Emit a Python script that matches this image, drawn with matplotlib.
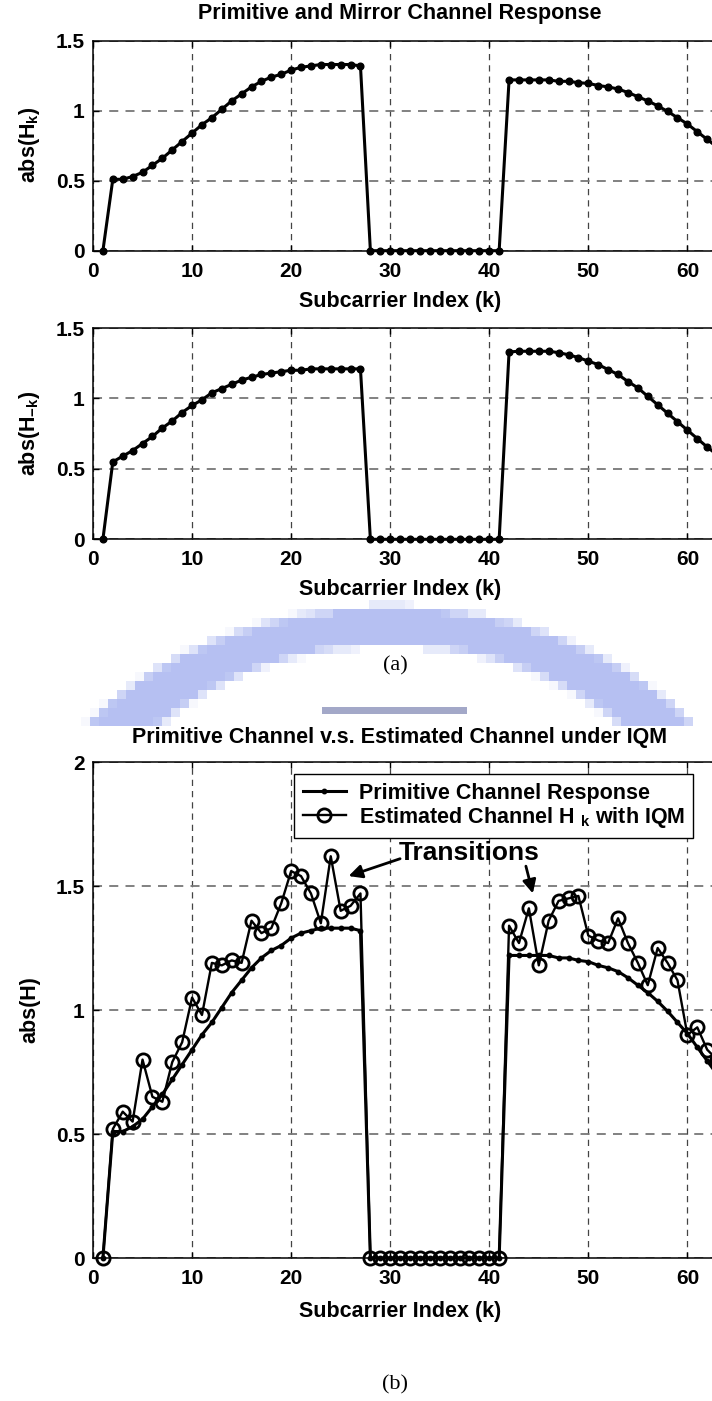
import numpy as np
import matplotlib
matplotlib.use('Agg')
import matplotlib.pyplot as plt
from matplotlib.patches import Rectangle

# ---- data ----
k = list(range(1, 64))

h_prim = [0, 0.51, 0.51, 0.53, 0.56, 0.61, 0.66, 0.72, 0.78, 0.84,
          0.90, 0.95, 1.01, 1.07, 1.12, 1.17, 1.21, 1.24, 1.26, 1.29,
          1.31, 1.32, 1.33, 1.33, 1.33, 1.33, 1.32,
          0, 0, 0, 0, 0, 0, 0, 0, 0, 0, 0, 0, 0, 0,
          1.22, 1.22, 1.22, 1.22, 1.22, 1.21, 1.21, 1.20, 1.195, 1.18,
          1.17, 1.155, 1.13, 1.10, 1.07, 1.035, 0.995, 0.95, 0.905, 0.85,
          0.795, 0.74]

h_mirror = [0, 0.55, 0.59, 0.63, 0.68, 0.73, 0.79, 0.84, 0.90, 0.95,
            0.99, 1.04, 1.07, 1.10, 1.13, 1.15, 1.17, 1.18, 1.19, 1.20,
            1.20, 1.21, 1.21, 1.21, 1.21, 1.21, 1.21,
            0, 0, 0, 0, 0, 0, 0, 0, 0, 0, 0, 0, 0, 0,
            1.33, 1.335, 1.335, 1.335, 1.335, 1.325, 1.31, 1.29, 1.265, 1.24,
            1.205, 1.17, 1.12, 1.075, 1.015, 0.955, 0.895, 0.835, 0.775, 0.715,
            0.655, 0.60]

h_est = [0, 0.52, 0.59, 0.55, 0.80, 0.65, 0.63, 0.79, 0.87, 1.05,
         0.98, 1.19, 1.18, 1.20, 1.19, 1.36, 1.31, 1.33, 1.43, 1.56,
         1.54, 1.47, 1.35, 1.62, 1.40, 1.42, 1.47,
         0, 0, 0, 0, 0, 0, 0, 0, 0, 0, 0, 0, 0, 0,
         1.34, 1.27, 1.41, 1.18, 1.36, 1.44, 1.45, 1.46, 1.30, 1.28,
         1.27, 1.37, 1.27, 1.19, 1.10, 1.25, 1.19, 1.12, 0.90, 0.93,
         0.84, 0.80]

x_ticks = [0, 10, 20, 30, 40, 50, 60]

# ---- style ----
plt.rcParams['font.family'] = ['Liberation Sans', 'DejaVu Sans']
plt.rcParams['font.weight'] = 'bold'
plt.rcParams['mathtext.fontset'] = 'custom'
plt.rcParams['mathtext.rm'] = 'Liberation Sans:bold'
plt.rcParams['mathtext.it'] = 'Liberation Sans:bold'
plt.rcParams['mathtext.bf'] = 'Liberation Sans:bold'

W, H = 712, 1401
fig = plt.figure(figsize=(W / 100, H / 100), dpi=100)

FS = 15.5     # labels / titles
TS = 15       # tick labels


def box(left, top, right, bottom):
    # pixel box -> figure fraction
    return [left / W, 1 - bottom / H, (right - left) / W, (bottom - top) / H]


def style_axes(ax, ymax, yticks, ylabels):
    ax.set_xlim(0, 64)
    ax.set_ylim(0, ymax)
    ax.set_xticks(x_ticks)
    ax.set_xticklabels([str(t) for t in x_ticks])
    ax.set_yticks(yticks)
    ax.set_yticklabels(ylabels)
    ax.tick_params(direction='in', length=4, width=1, top=True, right=True,
                   labelsize=TS, pad=6)
    ax.tick_params(axis='x', pad=8)
    for lab in ax.get_xticklabels() + ax.get_yticklabels():
        lab.set_fontweight('bold')
    for s in ax.spines.values():
        s.set_linewidth(1.1)
    ax.xaxis.grid(True, color='#444444', lw=0.9, dashes=(5, 4))
    ax.yaxis.grid(True, color='#777777', lw=1.3, dashes=(5, 4))
    ax.set_axisbelow(True)


xc = 400 / W   # horizontal centre used for titles / labels

# ===== (a) top: primitive =====
ax1 = fig.add_axes(box(93, 40.7, 727, 250.7))
ax1.plot(k, h_prim, '-o', color='k', lw=2.2, ms=4.8, clip_on=False)
style_axes(ax1, 1.5, [0, 0.5, 1, 1.5], ['0', '0.5', '1', '1.5'])
fig.text(xc, 1 - 14 / H, 'Primitive and Mirror Channel Response',
         ha='center', va='center', fontsize=FS, fontweight='bold')
fig.text(xc, 1 - 301 / H, 'Subcarrier Index (k)', ha='center', va='center',
         fontsize=FS, fontweight='bold')
fig.text(30 / W, 1 - 145 / H, 'abs(H$_k$)', rotation=90, ha='center',
         va='center', fontsize=FS, fontweight='bold')

# ===== (a) middle: mirror =====
ax2 = fig.add_axes(box(93, 328, 727, 539.3))
ax2.plot(k, h_mirror, '-o', color='k', lw=2.2, ms=4.8, clip_on=False)
style_axes(ax2, 1.5, [0, 0.5, 1, 1.5], ['0', '0.5', '1', '1.5'])
fig.text(xc, 1 - 589 / H, 'Subcarrier Index (k)', ha='center', va='center',
         fontsize=FS, fontweight='bold')
fig.text(30 / W, 1 - 433 / H, 'abs(H$_{-k}$)', rotation=90, ha='center',
         va='center', fontsize=FS, fontweight='bold')

# ===== watermark (pixelated blue arc) =====
wm = fig.add_axes([0, 0, 1, 1])
wm.set_zorder(-1)
wm.axis('off')
cell = 9
y0, y1 = 600, 718
xs = np.arange(0, W, cell)
ys = np.arange(y0, y1, cell)
img = np.zeros((len(ys), len(xs), 4))
sub = (np.arange(3) + 0.5) / 3 * cell
for i, yy in enumerate(ys):
    for j, xx in enumerate(xs):
        px, py = np.meshgrid(xx + sub, yy + sub)
        outer = ((px - 390) / 380) ** 2 + ((py - 902) / 295) ** 2 <= 1
        inner = ((px - 390) / 318) ** 2 + ((py - 902) / 257) ** 2 >= 1
        frac = np.mean(outer & inner)
        img[i, j] = [0.60, 0.66, 0.93, 0.72 * frac]
wm.imshow(img, extent=[0, len(xs) * cell, y0 + len(ys) * cell, y0],
          interpolation='nearest', aspect='auto')
wm.add_patch(Rectangle((322, 707), 145, 7, color='#a3a8c8', lw=0))
wm.set_xlim(0, W)
wm.set_ylim(H, 0)
fig.text(395 / W, 1 - 666 / H, '(a)', ha='center', va='center',
         fontsize=16, fontweight='normal', family='Liberation Serif')

# ===== (b) bottom =====
ax3 = fig.add_axes(box(93, 762, 727, 1258))
ax3.plot(k, h_prim, '-o', color='k', lw=2.2, ms=3.2,
         label='Primitive Channel Response', clip_on=False, zorder=3)
ax3.plot(k, h_est, '-o', color='k', lw=1.7, ms=9.5, mfc='none', mew=2,
         label='Estimated Channel H $_{k}$ with IQM', clip_on=False, zorder=4)
style_axes(ax3, 2, [0, 0.5, 1, 1.5, 2], ['0', '0.5', '1', '1.5', '2'])
fig.text(xc, 1 - 737 / H, 'Primitive Channel v.s. Estimated Channel under IQM',
         ha='center', va='center', fontsize=FS, fontweight='bold')
fig.text(xc, 1 - 1311 / H, 'Subcarrier Index (k)', ha='center', va='center',
         fontsize=FS, fontweight='bold')
fig.text(30 / W, 1 - 1010 / H, 'abs(H)', rotation=90, ha='center',
         va='center', fontsize=FS, fontweight='bold')
fig.text(395 / W, 1 - 1385 / H, '(b)', ha='center', va='center',
         fontsize=16, fontweight='normal', family='Liberation Serif')

leg = ax3.legend(loc='upper left', bbox_to_anchor=(294 / W, 1 - 774 / H),
                 bbox_transform=fig.transFigure, fancybox=False,
                 edgecolor='k', framealpha=1, borderaxespad=0,
                 handlelength=2.0, handletextpad=0.6, labelspacing=0.05,
                 borderpad=0.4, prop={'size': 15.5, 'weight': 'bold'})
leg.get_frame().set_linewidth(1.0)

ax3.text(30.9, 1.635, 'Transitions', ha='left', va='center',
         fontsize=19, fontweight='bold')
arrow = dict(arrowstyle='-|>', color='k', lw=2, mutation_scale=20,
             shrinkA=0, shrinkB=0)
ax3.annotate('', xy=(25.8, 1.54), xytext=(31.0, 1.61), arrowprops=arrow)
ax3.annotate('', xy=(44.4, 1.47), xytext=(43.7, 1.58), arrowprops=arrow)

plt.savefig('out.png', dpi=100)
